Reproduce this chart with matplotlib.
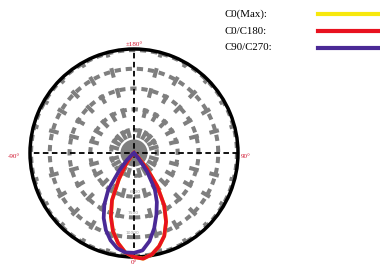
import numpy as np
import matplotlib
matplotlib.use("Agg")
import matplotlib.pyplot as plt
from matplotlib.lines import Line2D

plt.rcParams["lines.scale_dashes"] = False

# photometric curves, angle in degrees (0 = down), relative intensity
angles = [-90, -50, -45, -40, -35, -30, -25, -20, -15, -10, -5, 0,
          5, 10, 15, 20, 25, 30, 35, 40, 45, 50, 90]
c0_c180 = [0, 0, 0.02, 0.06, 0.14, 0.29, 0.50, 0.65, 0.78, 0.88, 0.96, 1.00,
           1.02, 0.99, 0.93, 0.85, 0.73, 0.58, 0.39, 0.19, 0.05, 0, 0]
c90_c270 = [0, 0.02, 0.10, 0.22, 0.43, 0.57, 0.69, 0.79, 0.87, 0.93, 0.96, 0.96,
            0.94, 0.86, 0.75, 0.63, 0.52, 0.40, 0.22, 0.07, 0, 0, 0]
c0_max = c0_c180

ring_values = [0.22, 0.42, 0.62, 0.81, 0.99]
ring_labels = ["", "6000", "7500", "10000", ""]
legend_names = ["C0(Max):", "C0/C180:", "C90/C270:"]
legend_colors = ["#f7e80c", "#e8121f", "#4a2996"]

W, H = 380, 265
fig = plt.figure(figsize=(W / 100, H / 100), dpi=100)
cx, cy, R = 134, 153, 104
ax = fig.add_axes([(cx - R) / W, (H - cy - R) / H, 2 * R / W, 2 * R / H],
                  projection="polar")
ax.set_theta_zero_location("S")
ax.set_theta_direction(1)
ax.set_ylim(0, 1.0)
ax.grid(False)
ax.set_xticks([])
ax.set_yticks([])
ax.spines["polar"].set_linewidth(2.5)
ax.spines["polar"].set_color("black")

gray = "#7f7f7f"
t = np.linspace(0, 2 * np.pi, 400)
for r in ring_values:
    ax.plot(t, np.full_like(t, r), color=gray, lw=2.9, dashes=(4.5, 3.5),
            solid_capstyle="butt")
for a in np.arange(0, 360, 15):
    if a % 90 == 0:
        continue
    ax.plot([np.radians(a)] * 2, [0.15, 1.0], color=gray, lw=2.9,
            dashes=(7, 8), dash_capstyle="butt")
ax.fill(t, np.full_like(t, 0.13), color=gray, lw=0, zorder=3)

# black axes
for a in [0, 90]:
    ax.plot([np.radians(a), np.radians(a + 180)], [1, 1], color="black",
            lw=1.3, dashes=(4, 2.5), zorder=4)

th = np.radians(angles)
ax.plot(th, c0_max, color=legend_colors[0], lw=2.7, clip_on=False, zorder=5)
ax.plot(th, c0_c180, color=legend_colors[1], lw=2.7, clip_on=False, zorder=5)
ax.plot(th, c90_c270, color=legend_colors[2], lw=2.7, clip_on=False, zorder=5)

for r, lab in zip(ring_values, ring_labels):
    if lab:
        ax.text(np.radians(-6), r - 0.04, lab, fontsize=3.2, color="#999999",
                ha="left", va="center", family="DejaVu Sans", zorder=4)

red = "#d0102a"
fs = dict(fontsize=5, color=red, family="Liberation Serif",
          ha="center", va="center")
fig.text(134 / W, 1 - 44 / H, "±180°", **fs)
fig.text(134 / W, 1 - 262 / H, "0°", **fs)
fig.text(14 / W, 1 - 157 / H, "-90°", **fs)
fig.text(246 / W, 1 - 157 / H, "90°", **fs)

for i, (name, col) in enumerate(zip(legend_names, legend_colors)):
    y = 1 - (14 + 17 * i) / H
    fig.text(225 / W, y, name, fontsize=7.8, family="Liberation Serif",
             va="center", ha="left")
    fig.add_artist(Line2D([318 / W, 1.0], [y, y], color=col, lw=3,
                          transform=fig.transFigure))

fig.savefig("out.png", dpi=100)
